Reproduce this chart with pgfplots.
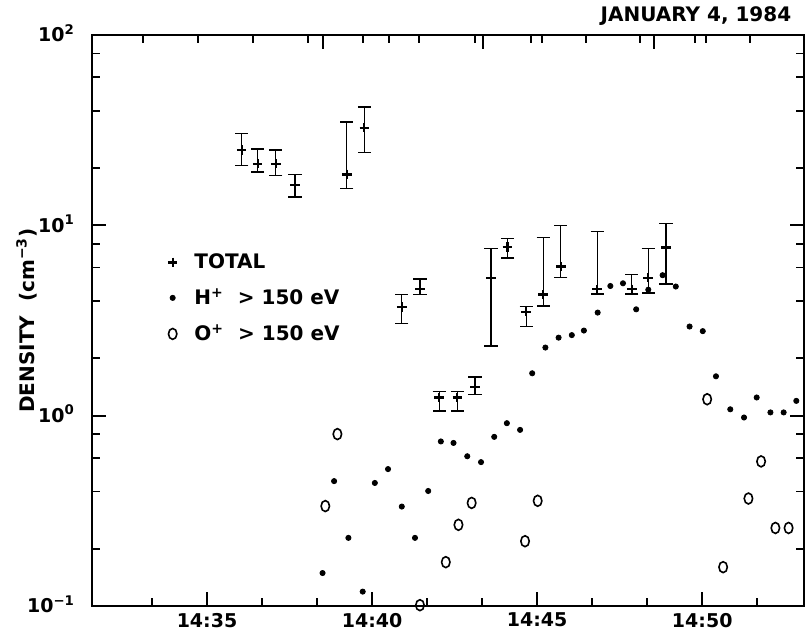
\documentclass[border=0pt]{standalone}
\usepackage{fontspec}
\setmainfont{DejaVu Sans}
\usepackage{pgfplots}
\usepackage{pgfplotstable}
\pgfplotsset{compat=1.18}

\newcommand\tickfont{\bfseries\fontsize{9.5}{11}\selectfont}
\newcommand\labfont{\bfseries\fontsize{10}{12}\selectfont}

% time in seconds of the day (UT); 52500 s = 14:35
\pgfplotstableread{
t y ep em
52563 24.8 5.5 4.2
52592 21.1 4.0 2.0
52625 21.1 3.7 2.8
52660 16.3 2.2 2.2
52754 18.5 16.4 2.9
52786 32.6 9.4 8.5
52854 3.73 0.60 0.68
52887 4.61 0.60 0.28
52922 1.246 0.094 0.186
52955 1.246 0.094 0.186
52987 1.41 0.19 0.12
53016 5.30 2.25 2.98
53046 7.71 0.80 0.95
53080 3.52 0.22 0.58
53111 4.33 4.29 0.57
53143 6.07 3.93 0.76
53209 4.61 4.66 0.26
53272 4.61 0.91 0.26
53302 5.31 2.24 0.91
53334 7.64 2.56 2.74
}\totaldata

\pgfplotstableread{
t y
52710 0.149
52731 0.453
52757 0.228
52783 0.119
52805 0.443
52829 0.524
52854 0.333
52878 0.228
52902 0.402
52925 0.732
52948 0.719
52973 0.612
52998 0.570
53022 0.774
53045 0.913
53069 0.842
53091 1.67
53115 2.28
53139 2.57
53163 2.65
53185 2.80
53210 3.48
53233 4.80
53256 4.96
53280 3.62
53302 4.59
53328 5.47
53352 4.77
53377 2.94
53401 2.78
53425 1.61
53451 1.08
53476 0.978
53499 1.246
53524 1.04
53548 1.04
53571 1.196
}\hdata

\pgfplotstableread{
t y
52715 0.335
52737 0.800
52887 0.101
52934 0.170
52957 0.267
52981 0.348
53078 0.219
53101 0.357
53409 1.22
53438 0.160
53484 0.367
53507 0.575
53533 0.257
53557 0.257
}\odata

\begin{document}
\begin{tikzpicture}
\begin{axis}[
  name=main,
  scale only axis,
  width=356pt, height=285.5pt,
  xmin=52291, xmax=53585,
  ymode=log, ymin=0.1, ymax=100,
  scaled x ticks=false,
  clip=false,
  axis line style={line width=1pt},
  every tick/.style={black, line width=0.9pt},
  major tick length=7pt,
  minor tick length=4pt,
  xtick pos=bottom,
  ytick pos=both,
  xtick={52500,52800,53100,53400},
  xticklabels={14:35,14:40,14:45,14:50},
  minor xtick={52400,52600,52700,52900,53000,53200,53300,53500},
  ytick={0.1,1,10,100},
  yticklabels={10\textsuperscript{−1},10\textsuperscript{0},10\textsuperscript{1},10\textsuperscript{2}},
  minor ytick={0.2,0.4,0.6,0.8,2,4,6,8,20,40,60,80},
  /pgf/number format/assume math mode=true,
  xticklabel style={font=\tickfont},
  yticklabel style={font=\tickfont, anchor=base east, yshift=-3.4pt, xshift=-5pt},
  ylabel={DENSITY\ \ (cm\textsuperscript{−3})},
  ylabel style={font=\labfont, at={(axis description cs:-0.092,0.5)}, anchor=center},
  legend style={draw=none, fill=none, font=\labfont, at={(0.106,0.625)}, anchor=north west, inner sep=0pt, row sep=4.5pt},
  legend cell align=left,
]
\addplot[only marks, mark=+, mark size=2.4pt, line width=1.1pt, black,
  error bars/.cd, y dir=both, y explicit, error mark=|,
  error mark options={mark size=3.3pt, line width=0.8pt, black},
  error bar style={line width=0.6pt, black}]
  table[x=t, y=y, y error plus=ep, y error minus=em]{\totaldata};
\addlegendentry{\hspace{6.5pt}TOTAL}
\addplot[only marks, mark=*, mark size=1.3pt, black] table[x=t, y=y]{\hdata};
\addlegendentry{\hspace{6.5pt}H\textsuperscript{+}\ \ > 150 eV}
\addplot[only marks, mark=o, mark size=2.1pt, line width=0.8pt, black,
  mark options={yscale=1.3}] table[x=t, y=y]{\odata};
\addlegendentry{\hspace{6.5pt}O\textsuperscript{+}\ \ > 150 eV}
\node[anchor=base east, yshift=6.7pt, font=\labfont] at (rel axis cs:0.992,1) {JANUARY 4, 1984};
\end{axis}
\begin{axis}[
  scale only axis,
  width=356pt, height=285.5pt,
  xmin=52291, xmax=53585,
  ymode=log, ymin=0.1, ymax=100,
  scaled x ticks=false,
  axis line style={line width=1pt},
  every tick/.style={black, line width=0.9pt},
  major tick length=4pt,
  xtick pos=top,
  xtick={52384,52484,52584,52684,52784,52831,52885,52987,53089,53109,53189,53287,53387,53407,53487},
  xticklabels={},
  extra x ticks={52711,53002,53313},
  extra x tick labels={},
  extra x tick style={major tick length=7pt, xtick pos=top},
  ytick=\empty,
  yminorticks=false,
  xminorticks=false,
]
\end{axis}
\pgfresetboundingbox
\path[use as bounding box] ([shift={(-46pt,-16.5pt)}]main.south west) rectangle ([shift={(1pt,17.5pt)}]main.north east);
\end{tikzpicture}
\end{document}
